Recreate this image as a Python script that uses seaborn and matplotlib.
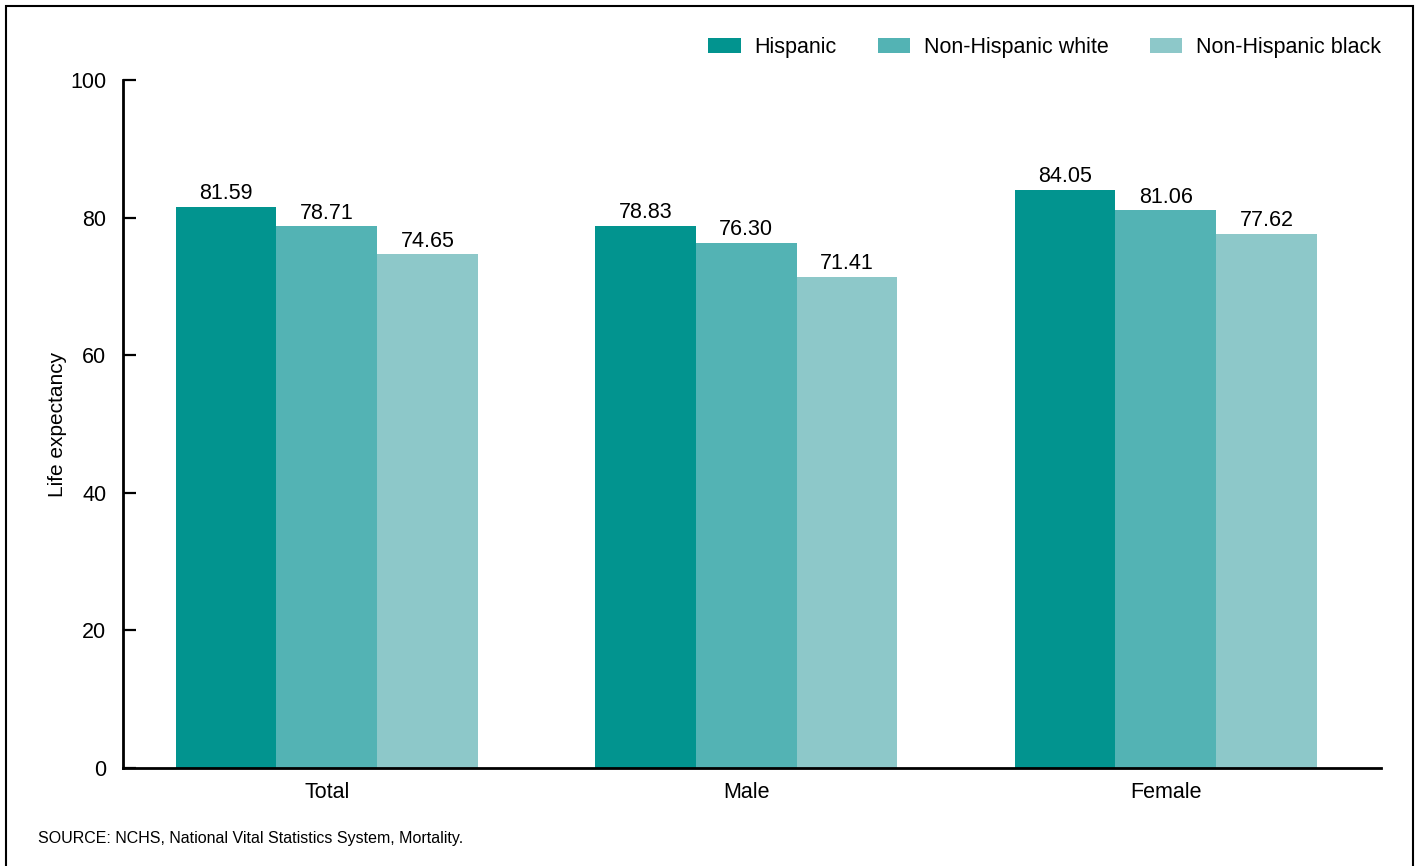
import pandas as pd
import matplotlib
matplotlib.use("Agg")
import matplotlib.pyplot as plt
import seaborn as sns
from matplotlib.patches import Rectangle

# Datos
grupos = ["Total", "Male", "Female"]
series = ["Hispanic", "Non-Hispanic white", "Non-Hispanic black"]
hispanic = [81.59, 78.83, 84.05]
nh_white = [78.71, 76.30, 81.06]
nh_black = [74.65, 71.41, 77.62]
colores = ["#02948F", "#53B3B4", "#8DC8C9"]
yticks = [0, 20, 40, 60, 80, 100]

df = pd.DataFrame({
    "grupo": grupos * 3,
    "serie": [series[0]] * 3 + [series[1]] * 3 + [series[2]] * 3,
    "valor": hispanic + nh_white + nh_black,
})

sns.set_style("white")
plt.rcParams["font.family"] = ["Liberation Sans", "DejaVu Sans"]
plt.rcParams["text.color"] = "black"
plt.rcParams["axes.labelcolor"] = "black"
plt.rcParams["xtick.color"] = "black"
plt.rcParams["ytick.color"] = "black"

fig = plt.figure(figsize=(14.18, 8.66), dpi=100)
ax = fig.add_axes([0.0867, 0.1132, 0.8872, 0.7944])

sns.barplot(data=df, x="grupo", y="valor", hue="serie", order=grupos,
            hue_order=series, palette=colores, width=0.72, saturation=1,
            linewidth=0, ax=ax)

for cont in ax.containers:
    ax.bar_label(cont, fmt="%.2f", padding=2, fontsize=15.5, color="black")

ax.set_ylim(0, 100)
ax.set_xlim(-0.486, 2.513)
ax.set_yticks(yticks)
ax.set_xlabel("")
ax.set_ylabel("Life expectancy", fontsize=15, labelpad=2.5)
ax.tick_params(axis="y", direction="in", length=9.5, width=1.6,
               labelsize=15.5, pad=12, left=True)
ax.tick_params(axis="x", length=0, labelsize=15.5, pad=10)

for s in ["top", "right"]:
    ax.spines[s].set_visible(False)
for s in ["left", "bottom"]:
    ax.spines[s].set_color("black")
    ax.spines[s].set_linewidth(2)

ax.legend(title=None, ncol=3, frameon=False, fontsize=15.5,
          loc="center right", bbox_to_anchor=(1.0, 1.047),
          handlelength=1.5, handleheight=0.7, handletextpad=0.65,
          columnspacing=1.9, borderaxespad=0, borderpad=0)

fig.text(0.027, 0.026, "SOURCE: NCHS, National Vital Statistics System, Mortality.",
         fontsize=11.5)

# marco exterior
fig.patches.append(Rectangle((6 / 1418, -0.05), (1413 - 6) / 1418, 1.05 - 6 / 866,
                             transform=fig.transFigure, fill=False,
                             edgecolor="black", linewidth=1.5))

fig.savefig("out.png", dpi=100)
